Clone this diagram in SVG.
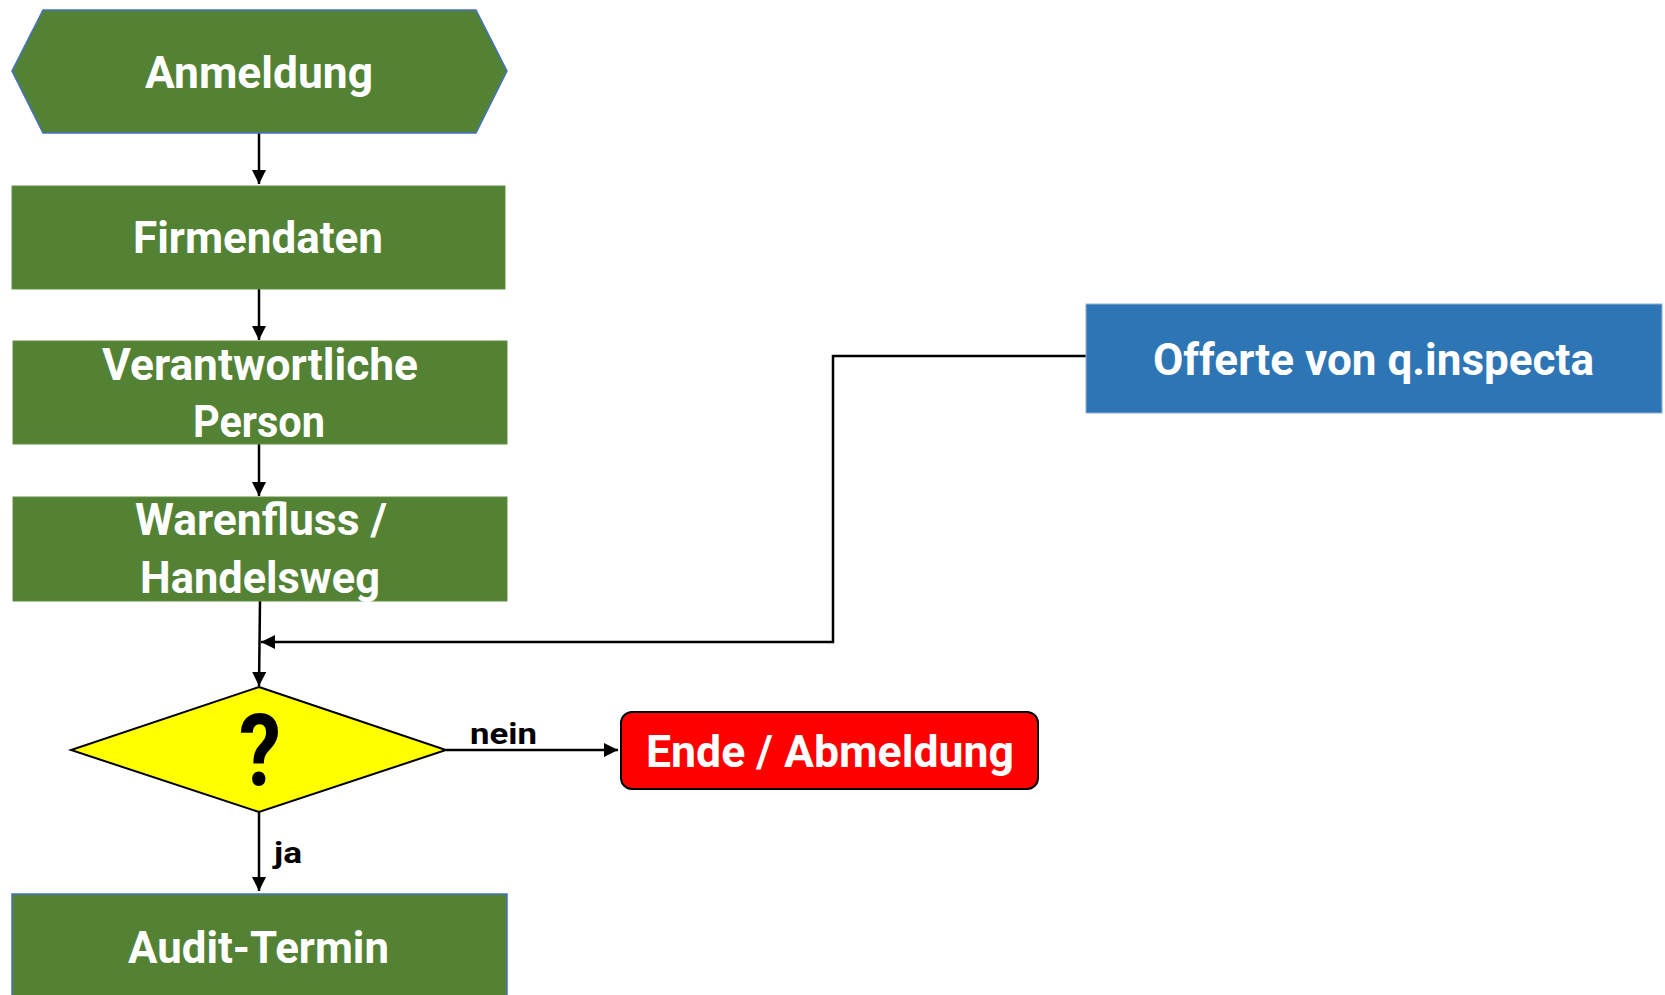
<svg xmlns="http://www.w3.org/2000/svg" width="1665" height="995" viewBox="0 0 1665 995">
<defs>
<style>
.green{fill:#548235;stroke:#5f8f3e;stroke-width:1}
.lbl{font-family:Roboto,"Open Sans",sans-serif;font-weight:700;fill:#ffffff;font-size:44px;text-anchor:middle}
.edge{fill:none;stroke:#000;stroke-width:2.5}
.elbl{font-family:Roboto,"Open Sans",sans-serif;font-weight:700;fill:#000;font-size:29px;text-anchor:middle}
</style>
<marker id="arr" markerUnits="userSpaceOnUse" markerWidth="15" markerHeight="14" refX="14" refY="7" orient="auto">
<path d="M0,0 L14,7 L0,14 z" fill="#000"/>
</marker>
</defs>
<rect width="1665" height="995" fill="#ffffff"/>
<g id="connectors">
<line class="edge" x1="259" y1="133" x2="259" y2="184" marker-end="url(#arr)"/>
<line class="edge" x1="259" y1="289" x2="259" y2="340" marker-end="url(#arr)"/>
<line class="edge" x1="259" y1="444" x2="259" y2="496" marker-end="url(#arr)"/>
<line class="edge" x1="260" y1="601" x2="259" y2="686" marker-end="url(#arr)"/>
<polyline class="edge" points="1086,356 833,356 833,642 261,642" marker-end="url(#arr)"/>
<line class="edge" x1="446" y1="750" x2="618" y2="750" marker-end="url(#arr)"/>
<line class="edge" x1="259" y1="812" x2="259" y2="891" marker-end="url(#arr)"/>
<text class="elbl" x="503.5" y="744" textLength="67" lengthAdjust="spacingAndGlyphs">nein</text>
<text class="elbl" x="288" y="863" textLength="28" lengthAdjust="spacingAndGlyphs">ja</text>
</g>
<g id="anmeldung">
<polygon points="43,10 476,10 507,71 476,133 43,133 12,71" fill="#548235" stroke="#4472C4" stroke-width="1.5"/>
<text class="lbl" x="259" y="88" textLength="228" lengthAdjust="spacingAndGlyphs">Anmeldung</text>
</g>
<g id="firmendaten">
<rect class="green" x="12" y="186" width="493" height="103"/>
<text class="lbl" x="258" y="253" textLength="250" lengthAdjust="spacingAndGlyphs">Firmendaten</text>
</g>
<g id="verantwortliche">
<rect class="green" x="13" y="341" width="494" height="103"/>
<text class="lbl" x="260" y="380" textLength="316" lengthAdjust="spacingAndGlyphs">Verantwortliche</text>
<text class="lbl" x="259" y="437" textLength="132" lengthAdjust="spacingAndGlyphs">Person</text>
</g>
<g id="warenfluss">
<rect class="green" x="13" y="497" width="494" height="104"/>
<text class="lbl" x="261" y="535" textLength="252" lengthAdjust="spacingAndGlyphs">Warenfluss /</text>
<text class="lbl" x="260" y="593" textLength="240" lengthAdjust="spacingAndGlyphs">Handelsweg</text>
</g>
<g id="offerte">
<rect x="1086" y="304" width="576" height="109" fill="#2E75B6" stroke="#8fb0d0" stroke-width="1"/>
<text class="lbl" x="1373.5" y="375" textLength="441" lengthAdjust="spacingAndGlyphs">Offerte von q.inspecta</text>
</g>
<g id="decision">
<polygon points="259,687 446,750 259,812 71,750" fill="#FFFF00" stroke="#000" stroke-width="2"/>
<text x="260" y="785" font-family="Roboto,'Open Sans',sans-serif" font-weight="700" font-size="100" text-anchor="middle" fill="#000" textLength="42" lengthAdjust="spacingAndGlyphs">?</text>
</g>
<g id="ende">
<rect x="621" y="712" width="417" height="77" rx="11" ry="11" fill="#FF0000" stroke="#000" stroke-width="2"/>
<text class="lbl" x="830" y="767" textLength="368" lengthAdjust="spacingAndGlyphs">Ende / Abmeldung</text>
</g>
<g id="audit">
<rect x="12" y="894" width="495" height="110" fill="#548235" stroke="#4472C4" stroke-width="1.5"/>
<text class="lbl" x="258.5" y="963" textLength="261" lengthAdjust="spacingAndGlyphs">Audit-Termin</text>
</g>
</svg>
